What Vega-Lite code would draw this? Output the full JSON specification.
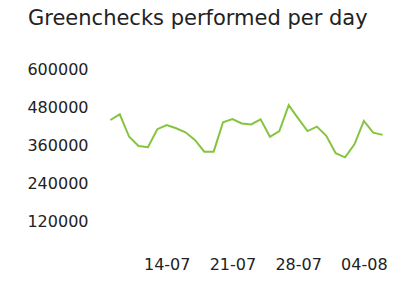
{
  "$schema": "https://vega.github.io/schema/vega-lite/v6.json",
  "width": 291,
  "height": 190,
  "autosize": "none",
  "padding": {"left": 101, "top": 69, "right": 24, "bottom": 39},
  "background": "white",
  "title": {
    "text": "Greenchecks performed per day",
    "anchor": "start",
    "frame": "group",
    "dx": -73,
    "offset": 32,
    "font": "DejaVu Sans",
    "fontSize": 21,
    "fontWeight": "normal",
    "color": "#222222"
  },
  "config": {"view": {"stroke": null}},
  "data": {
    "values": [
      {"date": "2014-07-08", "checks": 439000},
      {"date": "2014-07-09", "checks": 457000},
      {"date": "2014-07-10", "checks": 386000},
      {"date": "2014-07-11", "checks": 357000},
      {"date": "2014-07-12", "checks": 353000},
      {"date": "2014-07-13", "checks": 410000},
      {"date": "2014-07-14", "checks": 423000},
      {"date": "2014-07-15", "checks": 413000},
      {"date": "2014-07-16", "checks": 400000},
      {"date": "2014-07-17", "checks": 376000},
      {"date": "2014-07-18", "checks": 339000},
      {"date": "2014-07-19", "checks": 339000},
      {"date": "2014-07-20", "checks": 432000},
      {"date": "2014-07-21", "checks": 442000},
      {"date": "2014-07-22", "checks": 428000},
      {"date": "2014-07-23", "checks": 425000},
      {"date": "2014-07-24", "checks": 441000},
      {"date": "2014-07-25", "checks": 386000},
      {"date": "2014-07-26", "checks": 404000},
      {"date": "2014-07-27", "checks": 486000},
      {"date": "2014-07-28", "checks": 444000},
      {"date": "2014-07-29", "checks": 404000},
      {"date": "2014-07-30", "checks": 418000},
      {"date": "2014-07-31", "checks": 389000},
      {"date": "2014-08-01", "checks": 334000},
      {"date": "2014-08-02", "checks": 321000},
      {"date": "2014-08-03", "checks": 362000},
      {"date": "2014-08-04", "checks": 436000},
      {"date": "2014-08-05", "checks": 399000},
      {"date": "2014-08-06", "checks": 392000}
    ]
  },
  "mark": {"type": "line", "color": "#86c440", "strokeWidth": 2},
  "encoding": {
    "x": {
      "field": "date",
      "type": "temporal",
      "scale": {"domain": [{"year": 2014, "month": 7, "date": 7}, {"year": 2014, "month": 8, "date": 7}]},
      "axis": {
        "title": null,
        "values": [{"year": 2014, "month": 7, "date": 14}, {"year": 2014, "month": 7, "date": 21}, {"year": 2014, "month": 7, "date": 28}, {"year": 2014, "month": 8, "date": 4}],
        "format": "%d-%m",
        "ticks": false,
        "domain": false,
        "grid": false,
        "labelPadding": -3,
        "labelFont": "DejaVu Sans",
        "labelFontSize": 16,
        "labelColor": "#222222"
      }
    },
    "y": {
      "field": "checks",
      "type": "quantitative",
      "scale": {"domain": [0, 600000], "nice": false},
      "axis": {
        "title": null,
        "values": [120000, 240000, 360000, 480000, 600000],
        "format": "d",
        "ticks": false,
        "domain": false,
        "grid": false,
        "labelPadding": 13,
        "labelFont": "DejaVu Sans",
        "labelFontSize": 16,
        "labelColor": "#222222"
      }
    }
  }
}
